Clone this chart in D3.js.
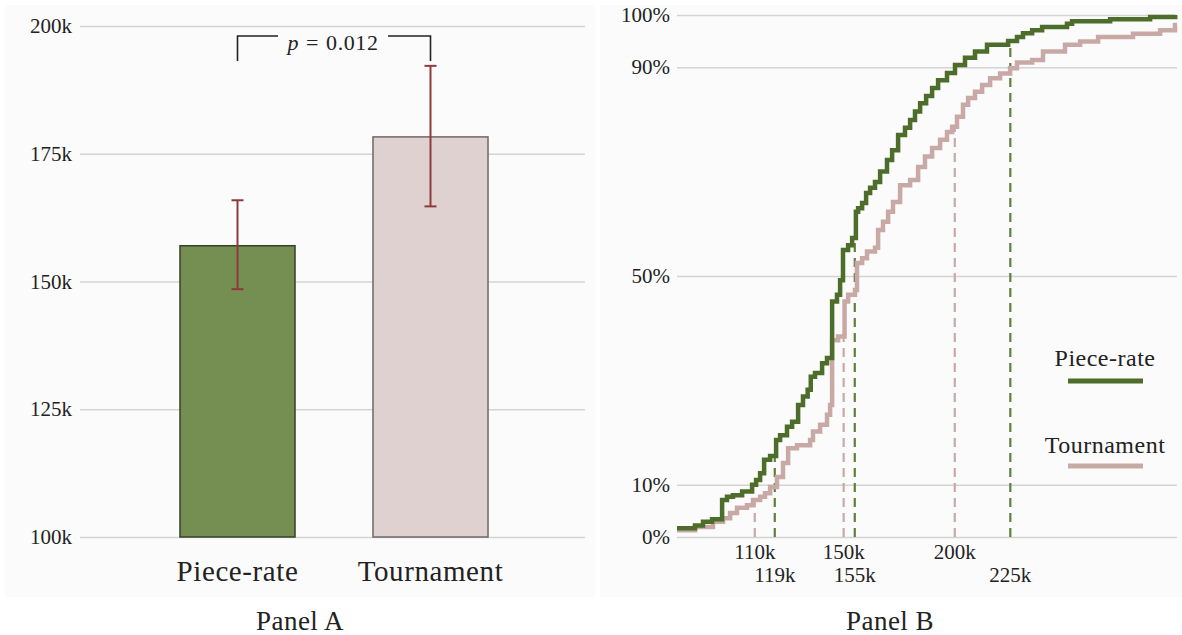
<!DOCTYPE html>
<html>
<head>
<meta charset="utf-8">
<script src="https://cdn.jsdelivr.net/npm/d3@7"></script>
<style>
  body { margin: 0; background: #ffffff; }
  svg text { font-family: "Liberation Serif", "DejaVu Serif", serif; fill: #222; }
</style>
</head>
<body>
<div id="chart"></div>
<script>
const svgWidth = 1182;
const svgHeight = 635;

// Panel A: mean earnings with 95% CI
const groups = ["Piece-rate", "Tournament"];
const meanEarnings = [157000, 178300];
const ciLow = [148500, 164700];
const ciHigh = [165900, 192200];
const pValue = "0.012";
const yTicksA = [100000, 125000, 150000, 175000, 200000];

// Panel B: empirical CDFs, [earnings in k, cumulative %]
const pieceSteps = [
  [75, 1.7], [83.1, 2.2], [86.7, 2.9], [90.8, 3.4], [95.3, 7.1], [97.5, 7.7], [100.2, 8.0],
  [104.3, 8.7], [108.8, 10.0], [110.6, 10.9], [112.4, 12.2], [114.2, 14.8], [116.9, 15.5],
  [119.6, 18.6], [121.4, 19.5], [124.5, 21.1], [126.8, 22.1], [129.5, 25.3], [131.7, 26.9],
  [133.8, 28.2], [135.2, 30.7], [137.1, 31.4], [140.3, 33.3], [142.5, 34.3], [144.8, 45.1],
  [147.0, 46.4], [148.4, 49.2], [149.7, 55.0], [152.0, 55.9], [153.8, 57.3], [155.5, 62.3],
  [156.5, 63.0], [158.3, 64.0], [160.1, 65.9], [161.9, 66.9], [164.1, 68.0], [166.4, 70.0],
  [169.5, 72.2], [171.8, 74.1], [174.5, 77.0], [177.6, 78.4], [179.9, 79.9], [182.1, 81.5],
  [184.4, 83.1], [187.1, 84.5], [189.8, 86.0], [192.5, 87.5], [196.5, 88.9], [200.1, 90.4],
  [204.6, 91.8], [209.1, 93.0], [214.5, 94.3], [224.0, 95.0], [228.0, 95.8], [230.7, 96.5],
  [234.8, 97.1], [239.3, 97.7], [250.5, 98.3], [252.8, 98.8], [269.9, 99.2], [287.9, 99.6],
  [299.2, 100]
];
const tournSteps = [
  [75, 1.3], [83.1, 1.9], [91.2, 2.9], [95.7, 3.6], [98.9, 4.6], [102.0, 5.6], [106.5, 6.1],
  [109.2, 7.1], [112.4, 7.7], [114.6, 8.4], [116.9, 9.6], [120.0, 11.5], [122.7, 14.2],
  [125.0, 17.0], [129.0, 17.6], [134.9, 18.6], [136.2, 20.2], [139.4, 21.5], [142.5, 23.4],
  [143.9, 25.3], [144.8, 37.7], [147.5, 38.4], [150.4, 45.1], [152.0, 46.4], [155.1, 47.3],
  [156.0, 52.5], [158.3, 53.4], [160.5, 54.7], [164.1, 55.4], [165.5, 58.8], [167.7, 60.4],
  [170.0, 62.3], [172.2, 64.2], [175.4, 67.4], [179.9, 68.4], [183.5, 70.9], [186.6, 72.9],
  [189.8, 74.5], [193.4, 76.1], [196.5, 77.6], [198.8, 78.6], [201.0, 80.5], [203.7, 82.8],
  [206.0, 84.1], [209.1, 85.3], [212.3, 86.6], [215.9, 87.9], [220.4, 88.8], [224.9, 89.8],
  [228.0, 90.9], [234.8, 91.4], [239.7, 93.0], [249.6, 94.3], [256.4, 94.9], [264.5, 95.8],
  [280.2, 96.4], [292.4, 97.1], [299.1, 98.1], [300, 98.1]
];
const pieceThresholds = [119, 155, 225];
const tournThresholds = [110, 150, 200];
const yTicksB = [0, 10, 50, 90, 100];

const greenBar = "#758f52";
const greenLine = "#4d6d2a";
const pinkBar = "#dfd1d0";
const pinkLine = "#c9a9a6";
const gridColor = "#d4d4d4";
const serif = "'Liberation Serif', 'DejaVu Serif', serif";

const svg = d3.select("#chart").append("svg")
  .attr("width", svgWidth)
  .attr("height", svgHeight);

// faint panel backgrounds
svg.append("rect").attr("x", 5).attr("y", 5).attr("width", 590).attr("height", 592).attr("fill", "#fbfbfb");
svg.append("rect").attr("x", 600).attr("y", 5).attr("width", 582).attr("height", 592).attr("fill", "#fbfbfb");

// ---------- Panel A ----------
const yA = d3.scaleLinear().domain([100000, 200000]).range([537, 26]);
const xA = d3.scaleBand().domain(groups).range([141, 527]).paddingInner(0.404).paddingOuter(0.202);

const axA = svg.append("g")
  .attr("transform", "translate(80,0)")
  .call(d3.axisLeft(yA).tickValues(yTicksA).tickSize(-505).tickPadding(8)
    .tickFormat(d => (d / 1000) + "k"));
axA.select(".domain").remove();
axA.selectAll("line").attr("stroke", gridColor).attr("stroke-width", 1.5);
axA.selectAll("text").style("font-size", "21px").style("font-family", serif).style("fill", "#222");

const barData = groups.map((g, i) => ({ g: g, v: meanEarnings[i], lo: ciLow[i], hi: ciHigh[i] }));

svg.selectAll(".bar")
  .data(barData)
  .enter()
  .append("rect")
  .attr("class", "bar")
  .attr("x", d => xA(d.g))
  .attr("y", d => yA(d.v))
  .attr("width", xA.bandwidth())
  .attr("height", d => yA(100000) - yA(d.v))
  .attr("fill", (d, i) => i === 0 ? greenBar : pinkBar)
  .attr("stroke", (d, i) => i === 0 ? "#34422a" : "#6f6868")
  .attr("stroke-width", 1.5);

// error bars
const errG = svg.selectAll(".err").data(barData).enter().append("g").attr("class", "err");
errG.append("line")
  .attr("x1", d => xA(d.g) + xA.bandwidth() / 2)
  .attr("x2", d => xA(d.g) + xA.bandwidth() / 2)
  .attr("y1", d => yA(d.lo))
  .attr("y2", d => yA(d.hi))
  .attr("stroke", "#8e3a3d").attr("stroke-width", 2);
errG.selectAll(".cap")
  .data(d => [d.lo, d.hi].map(v => ({ g: d.g, v: v })))
  .enter()
  .append("line")
  .attr("x1", d => xA(d.g) + xA.bandwidth() / 2 - 6)
  .attr("x2", d => xA(d.g) + xA.bandwidth() / 2 + 6)
  .attr("y1", d => yA(d.v))
  .attr("y2", d => yA(d.v))
  .attr("stroke", "#8e3a3d").attr("stroke-width", 2);

// significance bracket
const bx1 = xA(groups[0]) + xA.bandwidth() / 2;
const bx2 = xA(groups[1]) + xA.bandwidth() / 2;
const bTop = 36, bLeg = 61;
const bMid = (bx1 + bx2) / 2;
svg.append("path")
  .attr("d", `M${bx1},${bLeg} V${bTop} H${bMid - 56}`)
  .attr("fill", "none").attr("stroke", "#222").attr("stroke-width", 1.6);
svg.append("path")
  .attr("d", `M${bMid + 54},${bTop} H${bx2} V${bLeg}`)
  .attr("fill", "none").attr("stroke", "#222").attr("stroke-width", 1.6);
const pt = svg.append("text")
  .attr("x", bMid - 1)
  .attr("y", 50)
  .attr("text-anchor", "middle")
  .style("font-size", "22px")
  .style("letter-spacing", "0.6px");
pt.append("tspan").style("font-style", "italic").text("p");
pt.append("tspan").attr("dx", 7).text("=");
pt.append("tspan").attr("dx", 7).text(pValue);

// category labels
svg.selectAll(".catLabel")
  .data(groups)
  .enter()
  .append("text")
  .attr("x", d => xA(d) + xA.bandwidth() / 2)
  .attr("y", 581)
  .attr("text-anchor", "middle")
  .style("font-size", "29px")
  .style("letter-spacing", "0.6px")
  .text(d => d);

svg.append("text")
  .attr("x", 300).attr("y", 630)
  .attr("text-anchor", "middle")
  .style("font-size", "27px")
  .style("letter-spacing", "0.5px")
  .text("Panel A");

// ---------- Panel B ----------
const xB = d3.scaleLinear().domain([75, 300]).range([677, 1177]);
const yB = d3.scaleLinear().domain([0, 100]).range([537, 15]);

const axB = svg.append("g")
  .attr("transform", "translate(677,0)")
  .call(d3.axisLeft(yB).tickValues(yTicksB).tickSize(-500).tickPadding(7)
    .tickFormat(d => d + "%"));
axB.select(".domain").remove();
axB.selectAll("line").attr("stroke", gridColor).attr("stroke-width", 1.5);
axB.selectAll("text").style("font-size", "21px").style("font-family", serif).style("fill", "#222");

const cdfAt = (steps, x) => {
  let y = steps[0][1];
  steps.forEach(s => { if (s[0] <= x) y = s[1]; });
  return y;
};

// dashed threshold lines
const dashData = tournThresholds.map(t => ({ x: t, y: cdfAt(tournSteps, t), c: pinkLine }))
  .concat(pieceThresholds.map(t => ({ x: t, y: cdfAt(pieceSteps, t), c: "#5f7f3c" })));
svg.selectAll(".dash")
  .data(dashData)
  .enter()
  .append("line")
  .attr("x1", d => xB(d.x)).attr("x2", d => xB(d.x))
  .attr("y1", yB(0)).attr("y2", d => yB(d.y))
  .attr("stroke", d => d.c)
  .attr("stroke-width", 2.2)
  .attr("stroke-dasharray", "9,6");

const line = d3.line()
  .x(d => xB(d[0]))
  .y(d => yB(d[1]))
  .curve(d3.curveStepAfter);

svg.append("path").datum(tournSteps)
  .attr("d", line).attr("fill", "none")
  .attr("stroke", pinkLine).attr("stroke-width", 4.5);
svg.append("path").datum(pieceSteps)
  .attr("d", line).attr("fill", "none")
  .attr("stroke", greenLine).attr("stroke-width", 4.5);

// threshold labels
svg.selectAll(".tLab")
  .data(tournThresholds)
  .enter().append("text")
  .attr("x", d => xB(d)).attr("y", 559)
  .attr("text-anchor", "middle").style("font-size", "21px")
  .text(d => d + "k");
svg.selectAll(".pLab")
  .data(pieceThresholds)
  .enter().append("text")
  .attr("x", d => xB(d)).attr("y", 582)
  .attr("text-anchor", "middle").style("font-size", "21px")
  .text(d => d + "k");

// legend
const legend = [
  { name: groups[0], c: greenLine, ty: 366, ly: 381 },
  { name: groups[1], c: pinkLine, ty: 453, ly: 466 }
];
legend.forEach(l => {
  svg.append("text")
    .attr("x", 1105).attr("y", l.ty)
    .attr("text-anchor", "middle").style("font-size", "24px")
    .style("letter-spacing", "0.5px")
    .text(l.name);
  svg.append("line")
    .attr("x1", 1068).attr("x2", 1143)
    .attr("y1", l.ly).attr("y2", l.ly)
    .attr("stroke", l.c).attr("stroke-width", 5);
});

svg.append("text")
  .attr("x", 890).attr("y", 630)
  .attr("text-anchor", "middle")
  .style("font-size", "27px")
  .style("letter-spacing", "0.5px")
  .text("Panel B");
</script>
</body>
</html>
